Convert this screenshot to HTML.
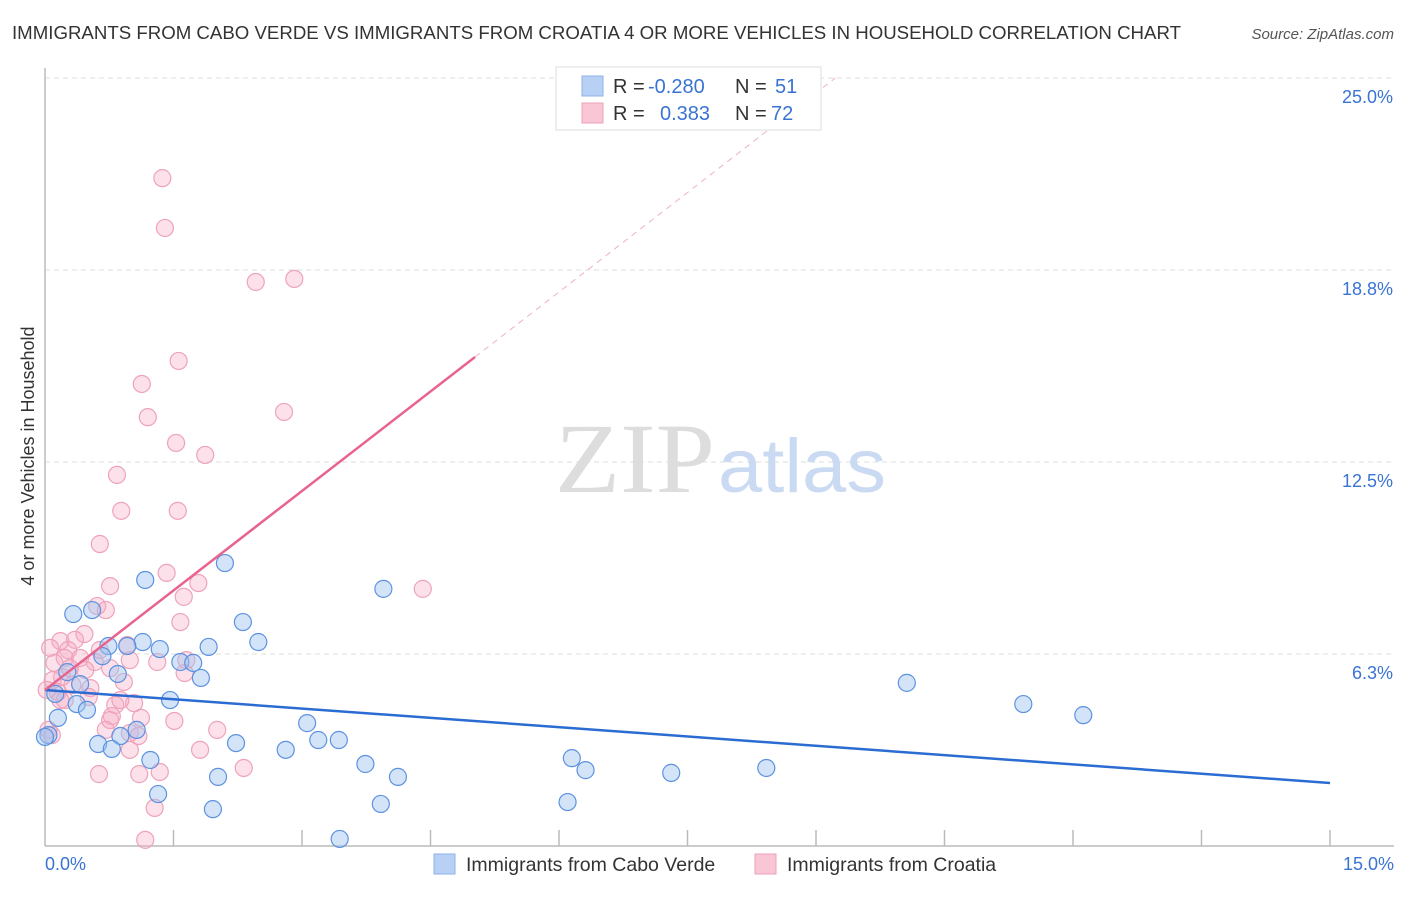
<!DOCTYPE html>
<html><head><meta charset="utf-8"><style>
body{margin:0;background:#fff;font-family:"Liberation Sans",sans-serif;}
svg text{font-family:"Liberation Sans",sans-serif;}
</style></head><body>
<svg id="chart" width="1406" height="892" viewBox="0 0 1406 892">
<text x="12" y="39" font-size="18" fill="#333" textLength="1169" lengthAdjust="spacingAndGlyphs">IMMIGRANTS FROM CABO VERDE VS IMMIGRANTS FROM CROATIA 4 OR MORE VEHICLES IN HOUSEHOLD CORRELATION CHART</text>
<text x="1394" y="39" font-size="15" fill="#555" font-style="italic" text-anchor="end">Source: ZipAtlas.com</text>
<g id="grid"></g>
<line x1="45" y1="68" x2="45" y2="846" stroke="#bbb" stroke-width="1.5"/>
<line x1="45" y1="846" x2="1394" y2="846" stroke="#bbb" stroke-width="1.5"/>
<text x="555" y="492" font-size="100" fill="#ddd" textLength="160" lengthAdjust="spacingAndGlyphs" style="font-family:'Liberation Serif',serif">ZIP</text>
<text x="718" y="492" font-size="76" fill="#c9daf2" textLength="168" lengthAdjust="spacingAndGlyphs">atlas</text>
<g id="ticks"></g>
<g id="pts"></g>
<g id="lines"></g>
<text x="28" y="456" font-size="18" fill="#333" text-anchor="middle" transform="rotate(-90 28 456)" dy="6">4 or more Vehicles in Household</text>
<text x="45" y="870" font-size="18" fill="#3a73d4">0.0%</text>
<text x="1394" y="870" font-size="18" fill="#3a73d4" text-anchor="end">15.0%</text>
<g>
<rect x="556" y="67" width="265" height="63" fill="#fff" stroke="#ddd"/>
<rect x="582" y="76" width="21" height="20" fill="#b7d0f3" stroke="#8fb2e8"/>
<rect x="582" y="103" width="21" height="20" fill="#f9c6d5" stroke="#eea3ba"/>
<text x="613" y="93" font-size="20" fill="#333">R =</text>
<text x="648" y="93" font-size="20" fill="#3a73d4">-0.280</text>
<text x="735" y="93" font-size="20" fill="#333">N =</text>
<text x="775" y="93" font-size="20" fill="#3a73d4">51</text>
<text x="613" y="120" font-size="20" fill="#333">R =</text>
<text x="660" y="120" font-size="20" fill="#3a73d4">0.383</text>
<text x="735" y="120" font-size="20" fill="#333">N =</text>
<text x="771" y="120" font-size="20" fill="#3a73d4">72</text>
</g>
<g>
<rect x="434" y="854" width="21" height="20" fill="#b7d0f3" stroke="#8fb2e8"/>
<text x="466" y="871" font-size="19.5" fill="#333">Immigrants from Cabo Verde</text>
<rect x="755" y="854" width="21" height="20" fill="#f9c6d5" stroke="#eea3ba"/>
<text x="787" y="871" font-size="19.5" fill="#333">Immigrants from Croatia</text>
</g>
</svg>
<script>
const yTicks=[6.25,12.5,18.75,25];
const yTickLabels=["6.3%","12.5%","18.8%","25.0%"];
const xTicks=[0,1.5,3,4.5,6,7.5,9,10.5,12,13.5,15];
const blueX=[1.17,2.10,3.95,0.33,0.55,2.31,2.49,1.14,0.74,0.96,1.34,0.67,1.91,1.58,1.73,0.85,1.82,0.26,0.41,0.12,1.46,0.37,0.49,0.15,3.06,1.07,0.88,0.62,0.78,2.23,2.81,3.19,3.43,1.23,3.74,2.02,4.12,1.32,3.92,1.96,3.44,6.15,6.31,7.31,8.42,6.10,10.06,11.42,12.12,0.04,0.0];
const blueY=[8.66,9.21,8.37,7.55,7.68,7.29,6.64,6.64,6.51,6.51,6.41,6.18,6.48,5.99,5.96,5.60,5.47,5.66,5.27,4.95,4.75,4.62,4.43,4.17,4.00,3.78,3.58,3.32,3.16,3.35,3.13,3.45,3.45,2.80,2.67,2.25,2.25,1.69,1.37,1.20,0.23,2.86,2.47,2.38,2.54,1.43,5.31,4.62,4.26,3.61,3.55];
const pinkX=[1.37,1.40,2.46,2.91,1.56,1.13,1.20,2.79,1.53,1.87,0.84,0.89,1.55,0.64,1.42,0.76,1.79,1.62,4.41,0.61,0.71,1.58,0.46,0.18,0.96,0.06,0.27,0.23,0.41,0.11,0.58,1.31,1.65,0.76,1.63,0.20,0.09,0.32,0.53,0.92,0.15,0.51,1.04,0.82,0.23,0.78,1.12,1.51,2.01,0.71,0.99,1.09,0.99,1.81,2.32,0.63,1.10,1.34,1.28,1.17,0.08,0.04,0.02,0.88,0.47,0.35,0.64,0.18,0.99,0.29,0.76];
const pinkY=[21.74,20.12,18.36,18.46,15.79,15.04,13.96,14.13,13.12,12.73,12.08,10.91,10.91,9.83,8.89,8.46,8.56,8.11,8.37,7.81,7.68,7.29,6.90,6.67,6.54,6.45,6.38,6.12,6.12,5.96,5.99,5.99,6.05,5.79,5.63,5.50,5.40,5.24,5.14,5.34,5.01,4.85,4.65,4.59,4.75,4.23,4.17,4.07,3.78,3.78,3.68,3.58,3.13,3.13,2.54,2.34,2.34,2.41,1.24,0.20,3.61,3.78,5.08,4.75,5.73,6.71,6.38,4.75,6.05,5.79,4.10];
const blueTrend=[5.08,2.05];
const pinkTrend=[5.08,2.159];
const pinkSolidEnd=5.02;
const X0=45,X1=1330,Y0=846,Y1=78;
const sx=v=>X0+v/15*(X1-X0);
const sy=v=>Y0-v/25*(Y0-Y1);
const NS="http://www.w3.org/2000/svg";
function mk(t,a,p){const e=document.createElementNS(NS,t);for(const k in a)e.setAttribute(k,a[k]);p.appendChild(e);return e;}
const grid=document.getElementById('grid');
yTicks.forEach((v,i)=>{
  const l=mk('line',{x1:45,x2:1394,y1:sy(v),y2:sy(v),stroke:'#ddd','stroke-dasharray':'5,4'},grid);
  
  
  const t=mk('text',{x:1393,y:sy(v)+25,'font-size':18,fill:'#3a73d4','text-anchor':'end'},grid);
  t.textContent=yTickLabels[i];
  
  
});
const ticks=document.getElementById('ticks');
xTicks.slice(1).forEach(v=>{
  const l=mk('line',{x1:sx(v),x2:sx(v),y1:830,y2:846,stroke:'#bbb','stroke-width':1.5},ticks);
  
  
});
const pts=document.getElementById('pts');
pinkX.forEach((x,i)=>{
  const c=mk('circle',{cx:sx(x),cy:sy(pinkY[i]),r:8.5,fill:'rgba(246,170,194,0.35)',stroke:'#eea3ba','stroke-width':1.2},pts);
  
  
});
blueX.forEach((x,i)=>{
  const c=mk('circle',{cx:sx(x),cy:sy(blueY[i]),r:8.5,fill:'rgba(160,195,240,0.45)',stroke:'#5d92e0','stroke-width':1.2},pts);
  
  
});
const lines=document.getElementById('lines');
let b=mk('line',{x1:sx(0),y1:sy(blueTrend[0]),x2:sx(15),y2:sy(blueTrend[1]),stroke:'#2b6cd3','stroke-width':2.5},lines);


const pe=(25-pinkTrend[0])/pinkTrend[1];
let pd=mk('line',{x1:sx(pinkSolidEnd),y1:sy(pinkTrend[0]+pinkTrend[1]*pinkSolidEnd),x2:sx(pe),y2:sy(25),stroke:'#f0b0c4','stroke-width':1,'stroke-dasharray':'6,5'},lines);


let p=mk('line',{x1:sx(0),y1:sy(pinkTrend[0]),x2:sx(pinkSolidEnd),y2:sy(pinkTrend[0]+pinkTrend[1]*pinkSolidEnd),stroke:'#e8648f','stroke-width':2.5},lines);


</script>
</body></html>
